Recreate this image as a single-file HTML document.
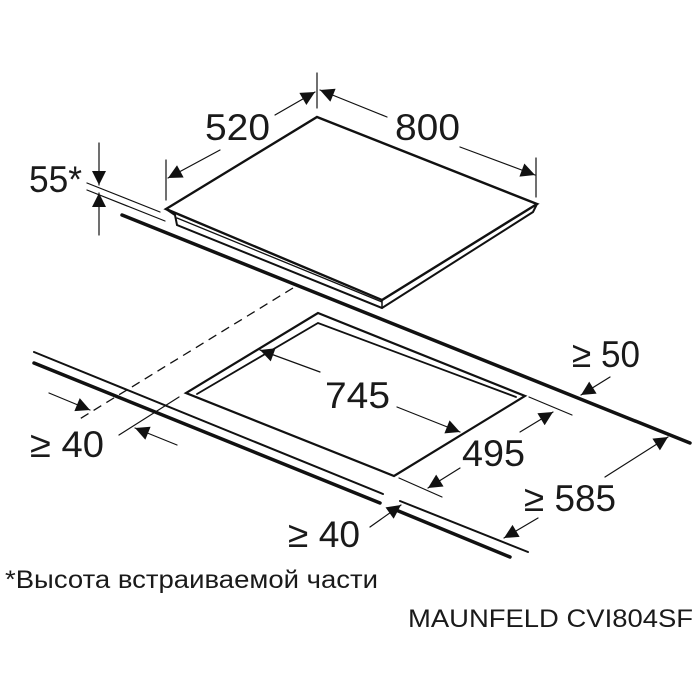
<!DOCTYPE html>
<html><head><meta charset="utf-8"><style>
html,body{margin:0;padding:0;background:#fff;}
svg{display:block;}
text{font-family:"Liberation Sans","DejaVu Sans",sans-serif;fill:#1a1a1a;}
</style></head><body>
<svg width="700" height="700" viewBox="0 0 700 700" xmlns="http://www.w3.org/2000/svg">
<defs>
<marker id="b" viewBox="0 0 10 10" refX="10" refY="5" markerWidth="18" markerHeight="14" orient="auto" markerUnits="userSpaceOnUse">
<path d="M0,0 L10,5 L0,10 Z" fill="#111"/></marker>
</defs>
<g stroke="#111" fill="none" stroke-linecap="round">
<path d="M317,117 L537,204 L382,300 L166,209 Z" stroke-width="2.4"/>
<path d="M166,209 L175,215 L177,225 L382,308 L533,212 L537,204" stroke-width="2"/>
<path d="M177,218 L382,302" stroke-width="1.3"/>
<line x1="382" y1="300" x2="382" y2="308" stroke-width="1.5"/>
<line x1="122" y1="215" x2="690" y2="443" stroke-width="3.5"/>
<line x1="87" y1="183" x2="160" y2="212" stroke-width="1.2"/>
<line x1="87" y1="190" x2="165" y2="221" stroke-width="1.2"/>
<line x1="317" y1="73" x2="317" y2="108" stroke-width="1.2"/>
<line x1="166" y1="160" x2="166" y2="200" stroke-width="1.2"/>
<line x1="536" y1="158" x2="536" y2="197" stroke-width="1.2"/>
<line x1="275" y1="115" x2="315" y2="92" stroke-width="1.2" marker-end="url(#b)"/>
<line x1="220" y1="150" x2="168" y2="178" stroke-width="1.2" marker-end="url(#b)"/>
<line x1="387" y1="117" x2="320" y2="90" stroke-width="1.2" marker-end="url(#b)"/>
<line x1="460" y1="147" x2="535" y2="175" stroke-width="1.2" marker-end="url(#b)"/>
<line x1="99" y1="143" x2="99" y2="185" stroke-width="1.2" marker-end="url(#b)"/>
<line x1="99" y1="235" x2="99" y2="193" stroke-width="1.2" marker-end="url(#b)"/>
<line x1="293" y1="288" x2="78" y2="420" stroke-width="1.3" stroke-dasharray="9,6" stroke-linecap="butt"/>
<path d="M318,313 L525,396 L394,476 L186,393 Z" stroke-width="2.2"/>
<path d="M197,394 L318,323 L516,397" stroke-width="1.8"/>
<path d="M34,352 L383,494 M400,501 L528,552" stroke-width="2"/>
<path d="M34,363 L380,503 M396,510 L510,557" stroke-width="3.5"/>
<line x1="179" y1="397" x2="119" y2="435" stroke-width="1.2"/>
<line x1="49" y1="393" x2="90" y2="410" stroke-width="1.2" marker-end="url(#b)"/>
<line x1="177" y1="445" x2="135" y2="428" stroke-width="1.2" marker-end="url(#b)"/>
<line x1="320" y1="372" x2="260" y2="350" stroke-width="1.2" marker-end="url(#b)"/>
<line x1="397" y1="407" x2="460" y2="432" stroke-width="1.2" marker-end="url(#b)"/>
<line x1="529" y1="397" x2="572" y2="415" stroke-width="1.2"/>
<line x1="399" y1="478" x2="442" y2="497" stroke-width="1.2"/>
<line x1="520" y1="432" x2="553" y2="412" stroke-width="1.2" marker-end="url(#b)"/>
<line x1="460" y1="468" x2="428" y2="488" stroke-width="1.2" marker-end="url(#b)"/>
<line x1="610" y1="377" x2="581" y2="395" stroke-width="1.2" marker-end="url(#b)"/>
<line x1="605" y1="477" x2="668" y2="437" stroke-width="1.2" marker-end="url(#b)"/>
<line x1="538" y1="518" x2="504" y2="538" stroke-width="1.2" marker-end="url(#b)"/>
<line x1="370" y1="527" x2="401" y2="505" stroke-width="1.2" marker-end="url(#b)"/>
</g>
<g font-size="37">
<text x="205" y="140" textLength="65" lengthAdjust="spacingAndGlyphs">520</text>
<text x="395" y="140" textLength="65" lengthAdjust="spacingAndGlyphs">800</text>
<text x="29" y="192" textLength="53" lengthAdjust="spacingAndGlyphs">55*</text>
<text x="325" y="408" textLength="65" lengthAdjust="spacingAndGlyphs">745</text>
<text x="462" y="466" textLength="63" lengthAdjust="spacingAndGlyphs">495</text>
<text x="572" y="367" textLength="68" lengthAdjust="spacingAndGlyphs">≥ 50</text>
<text x="30" y="457" textLength="74" lengthAdjust="spacingAndGlyphs">≥ 40</text>
<text x="524" y="511" textLength="92" lengthAdjust="spacingAndGlyphs">≥ 585</text>
<text x="288" y="547" textLength="72" lengthAdjust="spacingAndGlyphs">≥ 40</text>
</g>
<text x="5" y="588" font-size="25" textLength="373" lengthAdjust="spacingAndGlyphs">*Высота встраиваемой части</text>
<text x="408" y="627" font-size="25" textLength="285" lengthAdjust="spacingAndGlyphs">MAUNFELD CVI804SF</text>
</svg>
</body></html>
